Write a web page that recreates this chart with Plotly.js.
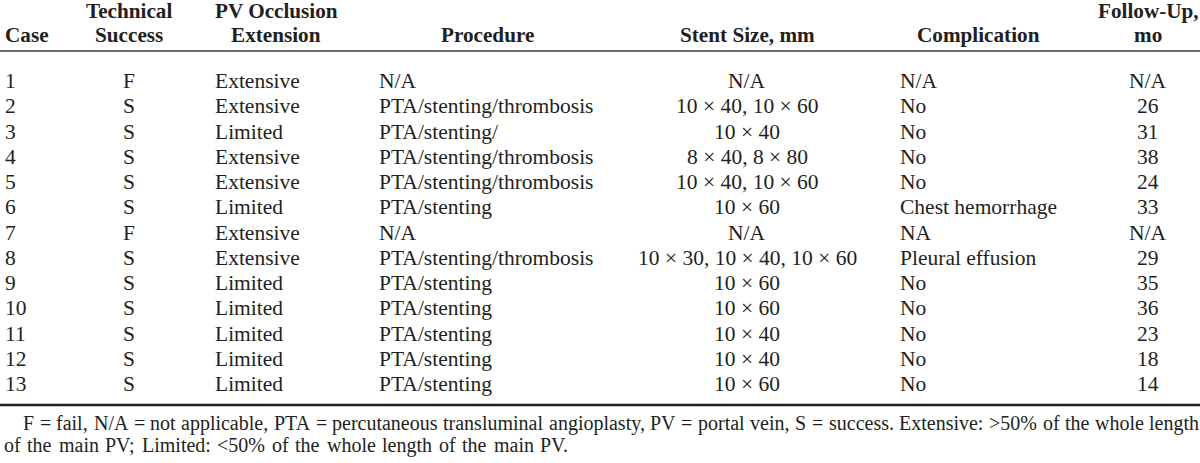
<!DOCTYPE html>
<html>
<head>
<meta charset="utf-8">
<script src="https://cdn.plot.ly/plotly-3.0.1.min.js"></script>
<style>html,body{margin:0;padding:0;background:#fff;} #chart{width:1200px;height:463px;}</style>
</head>
<body>
<div id="chart"></div>
<script>
// ---- data ----
const cases = ['1','2','3','4','5','6','7','8','9','10','11','12','13'];
const technicalSuccess = ['F','S','S','S','S','S','F','S','S','S','S','S','S'];
const occlusionExtension = ['Extensive','Extensive','Limited','Extensive','Extensive','Limited','Extensive','Extensive','Limited','Limited','Limited','Limited','Limited'];
const procedure = ['N/A','PTA/stenting/thrombosis','PTA/stenting/','PTA/stenting/thrombosis','PTA/stenting/thrombosis','PTA/stenting','N/A','PTA/stenting/thrombosis','PTA/stenting','PTA/stenting','PTA/stenting','PTA/stenting','PTA/stenting'];
const stentSize = ['N/A','10 \u00d7 40, 10 \u00d7 60','10 \u00d7 40','8 \u00d7 40, 8 \u00d7 80','10 \u00d7 40, 10 \u00d7 60','10 \u00d7 60','N/A','10 \u00d7 30, 10 \u00d7 40, 10 \u00d7 60','10 \u00d7 60','10 \u00d7 60','10 \u00d7 40','10 \u00d7 40','10 \u00d7 60'];
const complication = ['N/A','No','No','No','No','Chest hemorrhage','NA','Pleural effusion','No','No','No','No','No'];
const followUp = ['N/A','26','31','38','24','33','N/A','29','35','36','23','18','14'];
const headerTop = ['', 'Technical', 'PV Occlusion', '', '', '', 'Follow-Up,'];
const headerBottom = ['Case', 'Success', 'Extension', 'Procedure', 'Stent Size, mm', 'Complication', 'mo'];
const footnoteLine1 = 'F = fail, N/A = not applicable, PTA = percutaneous transluminal angioplasty, PV = portal vein, S = success. Extensive: >50% of the whole length';
const footnoteLine2 = 'of the main PV; Limited: <50% of the whole length of the main PV.';

// ---- style ----
const FONT = "'Liberation Serif', 'Times New Roman', serif";
const INK = '#231f20';
const BODY_SIZE = 21.5;
const HEAD_SIZE = 21.2;
const NOTE_SIZE = 20;
// column styling: data anchor x, data align, header center x
const cols = [
  {x: 3,    align: 'left',   hx: 3,    halign: 'left'},
  {x: 129,  align: 'center', hx: 129,  halign: 'center'},
  {x: 213,  align: 'left',   hx: 276,  halign: 'center'},
  {x: 377,  align: 'left',   hx: 487,  halign: 'center'},
  {x: 747,  align: 'center', hx: 747,  halign: 'center'},
  {x: 898,  align: 'left',   hx: 978,  halign: 'center'},
  {x: 1148, align: 'center', hx: 1148, halign: 'center'}
];
// vertical layout in row units (row 0 = case 1)
const ROW0_PX = 81, ROW_PX = 25.25;
const toRow = px => (px - ROW0_PX) / ROW_PX;
const yTop = toRow(0), yBottom = toRow(463);

const columns = [cases, technicalSuccess, occlusionExtension, procedure, stentSize, complication, followUp];
const esc = s => s.replace(/&/g,'&amp;').replace(/</g,'&lt;').replace(/>/g,'&gt;');

const annotations = [];
columns.forEach((col, c) => {
  col.forEach((val, r) => {
    annotations.push({
      x: cols[c].x, y: r, xref: 'x', yref: 'y',
      text: esc(val), showarrow: false,
      xanchor: cols[c].align, yanchor: 'middle',
      font: {family: FONT, size: BODY_SIZE, color: INK}
    });
  });
});
headerTop.forEach((t, c) => {
  if (!t) return;
  annotations.push({x: cols[c].hx, y: toRow(11), xref: 'x', yref: 'y', text: '<b>' + esc(t) + '</b>',
    showarrow: false, xanchor: cols[c].halign, yanchor: 'middle',
    font: {family: FONT, size: HEAD_SIZE, color: INK}});
});
headerBottom.forEach((t, c) => {
  annotations.push({x: cols[c].hx, y: toRow(35), xref: 'x', yref: 'y', text: '<b>' + esc(t) + '</b>',
    showarrow: false, xanchor: cols[c].halign, yanchor: 'middle',
    font: {family: FONT, size: HEAD_SIZE, color: INK}});
});

// footnote: words laid out with measured widths (line 1 justified)
const ctx = document.createElement('canvas').getContext('2d');
ctx.font = NOTE_SIZE + "px 'Liberation Serif'";
const spaceW = ctx.measureText(' ').width;
function layWords(line, left, right, yPx, spaceScale) {
  const words = line.split(' ');
  const widths = words.map(w => ctx.measureText(w).width);
  let gap = spaceW * spaceScale;
  if (right !== null) {
    const total = widths.reduce((a,b)=>a+b,0);
    gap = (right - left - total) / (words.length - 1);
  }
  let x = left;
  words.forEach((w, i) => {
    annotations.push({x: x, y: toRow(yPx), xref: 'x', yref: 'y', text: esc(w), showarrow: false,
      xanchor: 'left', yanchor: 'middle', xshift: -1,
      font: {family: FONT, size: NOTE_SIZE, color: INK}});
    x += widths[i] + gap;
  });
}
layWords(footnoteLine1, 22, 1198, 423, 1);
layWords(footnoteLine2, 3, null, 445, 1.35);

const shapes = [
  {type: 'line', xref: 'paper', yref: 'y', x0: 0, x1: 1, y0: toRow(51), y1: toRow(51), line: {color: '#3a3a3a', width: 1.6}},
  {type: 'line', xref: 'paper', yref: 'y', x0: 0, x1: 1, y0: toRow(405), y1: toRow(405), line: {color: '#1e1e1e', width: 2.6}}
];

const layout = {
  width: 1200, height: 463,
  margin: {l: 0, r: 0, t: 0, b: 0, pad: 0},
  paper_bgcolor: '#ffffff', plot_bgcolor: '#ffffff',
  showlegend: false,
  xaxis: {range: [0, 1200], visible: false, fixedrange: true},
  yaxis: {range: [yBottom, yTop], visible: false, fixedrange: true},
  annotations: annotations,
  shapes: shapes
};
Plotly.newPlot('chart', [{type: 'scatter', x: [], y: [], mode: 'markers', hoverinfo: 'skip'}], layout, {staticPlot: true, displayModeBar: false});
</script>
</body>
</html>
